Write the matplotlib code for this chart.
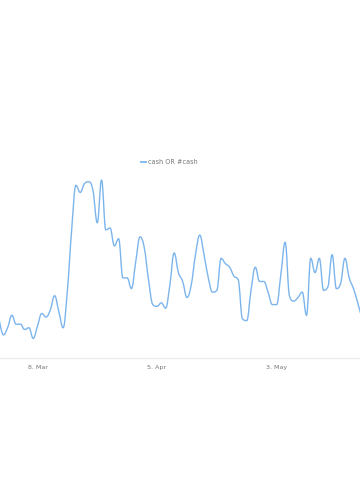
import numpy as np
import pandas as pd
import matplotlib
matplotlib.use('Agg')
import matplotlib.pyplot as plt
import matplotlib.dates as mdates
from matplotlib.path import Path
from matplotlib.patches import PathPatch

# daily values (Feb 27 .. May 23)
start_date = '2021-02-27'
values = [22, 13, 17, 24, 19, 19, 16, 17, 11, 18,
          25, 23, 27, 35, 26, 17, 38, 72, 97, 93,
          98, 99, 94, 76, 100, 72, 73, 63, 67, 45,
          45, 39, 54, 68, 62, 44, 30, 29, 31, 28,
          41, 59, 48, 43, 34, 41, 58, 69, 58, 45,
          37, 38, 56, 53, 51, 46, 44, 22, 21, 38,
          51, 43, 43, 37, 30, 30, 47, 65, 35, 32,
          34, 37, 24, 56, 48, 56, 38, 40, 58, 39,
          42, 56, 45, 39, 31, 22]
tick_dates = ['2021-03-08', '2021-04-05', '2021-05-03']
series_name = 'cash OR #cash'

dates = pd.date_range(start_date, periods=len(values), freq='D')
xs = mdates.date2num(dates.to_pydatetime())
ys = np.array(values, dtype=float)


def spline_path(x, y, smoothing=1.5):
    # bezier spline like highcharts' "spline" series
    denom = smoothing + 1
    verts = [(x[0], y[0])]
    codes = [Path.MOVETO]
    right = (x[0], y[0])
    n = len(x)
    for i in range(1, n):
        px, py = x[i], y[i]
        if i < n - 1:
            lx = (smoothing * px + x[i - 1]) / denom
            ly = (smoothing * py + y[i - 1]) / denom
            rx = (smoothing * px + x[i + 1]) / denom
            ry = (smoothing * py + y[i + 1]) / denom
            corr = (ry - ly) * (rx - px) / (rx - lx) + py - ry
            ly += corr
            ry += corr
            if ly > y[i - 1] and ly > py:
                ly = max(y[i - 1], py)
                ry = 2 * py - ly
            elif ly < y[i - 1] and ly < py:
                ly = min(y[i - 1], py)
                ry = 2 * py - ly
            if ry > y[i + 1] and ry > py:
                ry = max(y[i + 1], py)
                ly = 2 * py - ry
            elif ry < y[i + 1] and ry < py:
                ry = min(y[i + 1], py)
                ly = 2 * py - ry
        else:
            lx, ly, rx, ry = px, py, px, py
        verts += [right, (lx, ly), (px, py)]
        codes += [Path.CURVE4] * 3
        right = (rx, ry)
    return Path(verts, codes)


fig = plt.figure(figsize=(3.6, 5.0), dpi=100)
ax = fig.add_axes([0, 1 - 358 / 500, 1, 218 / 500])

ax.add_patch(PathPatch(spline_path(xs, ys), facecolor='none',
                       edgecolor='#7cb5ec', linewidth=1.0))

x0 = mdates.date2num(pd.Timestamp('2021-03-08'))
ax.set_xlim(x0 - 37.5 / 4.27, x0 + (360 - 37.5) / 4.27)
ax.set_ylim(0, 100 * 218 / 178)

ax.set_xticks(mdates.date2num(pd.to_datetime(tick_dates).to_pydatetime()))
ax.xaxis.set_major_formatter(mdates.DateFormatter('%-d. %b'))
ax.tick_params(axis='x', length=0, pad=5, labelsize=4.6, labelcolor='#777777')
ax.set_yticks([])
for s in ['top', 'left', 'right']:
    ax.spines[s].set_visible(False)
ax.spines['bottom'].set_color('#ececec')
ax.spines['bottom'].set_linewidth(1)

# legend
fig.add_artist(plt.Line2D([141 / 360, 146 / 360], [1 - 162 / 500] * 2,
                          color='#7cb5ec', linewidth=1.3))
fig.text(148 / 360, 1 - 162 / 500, series_name, fontsize=4.7,
         color='#777777', va='center', ha='left')

fig.savefig('out.png', dpi=100)
plt.close(fig)
